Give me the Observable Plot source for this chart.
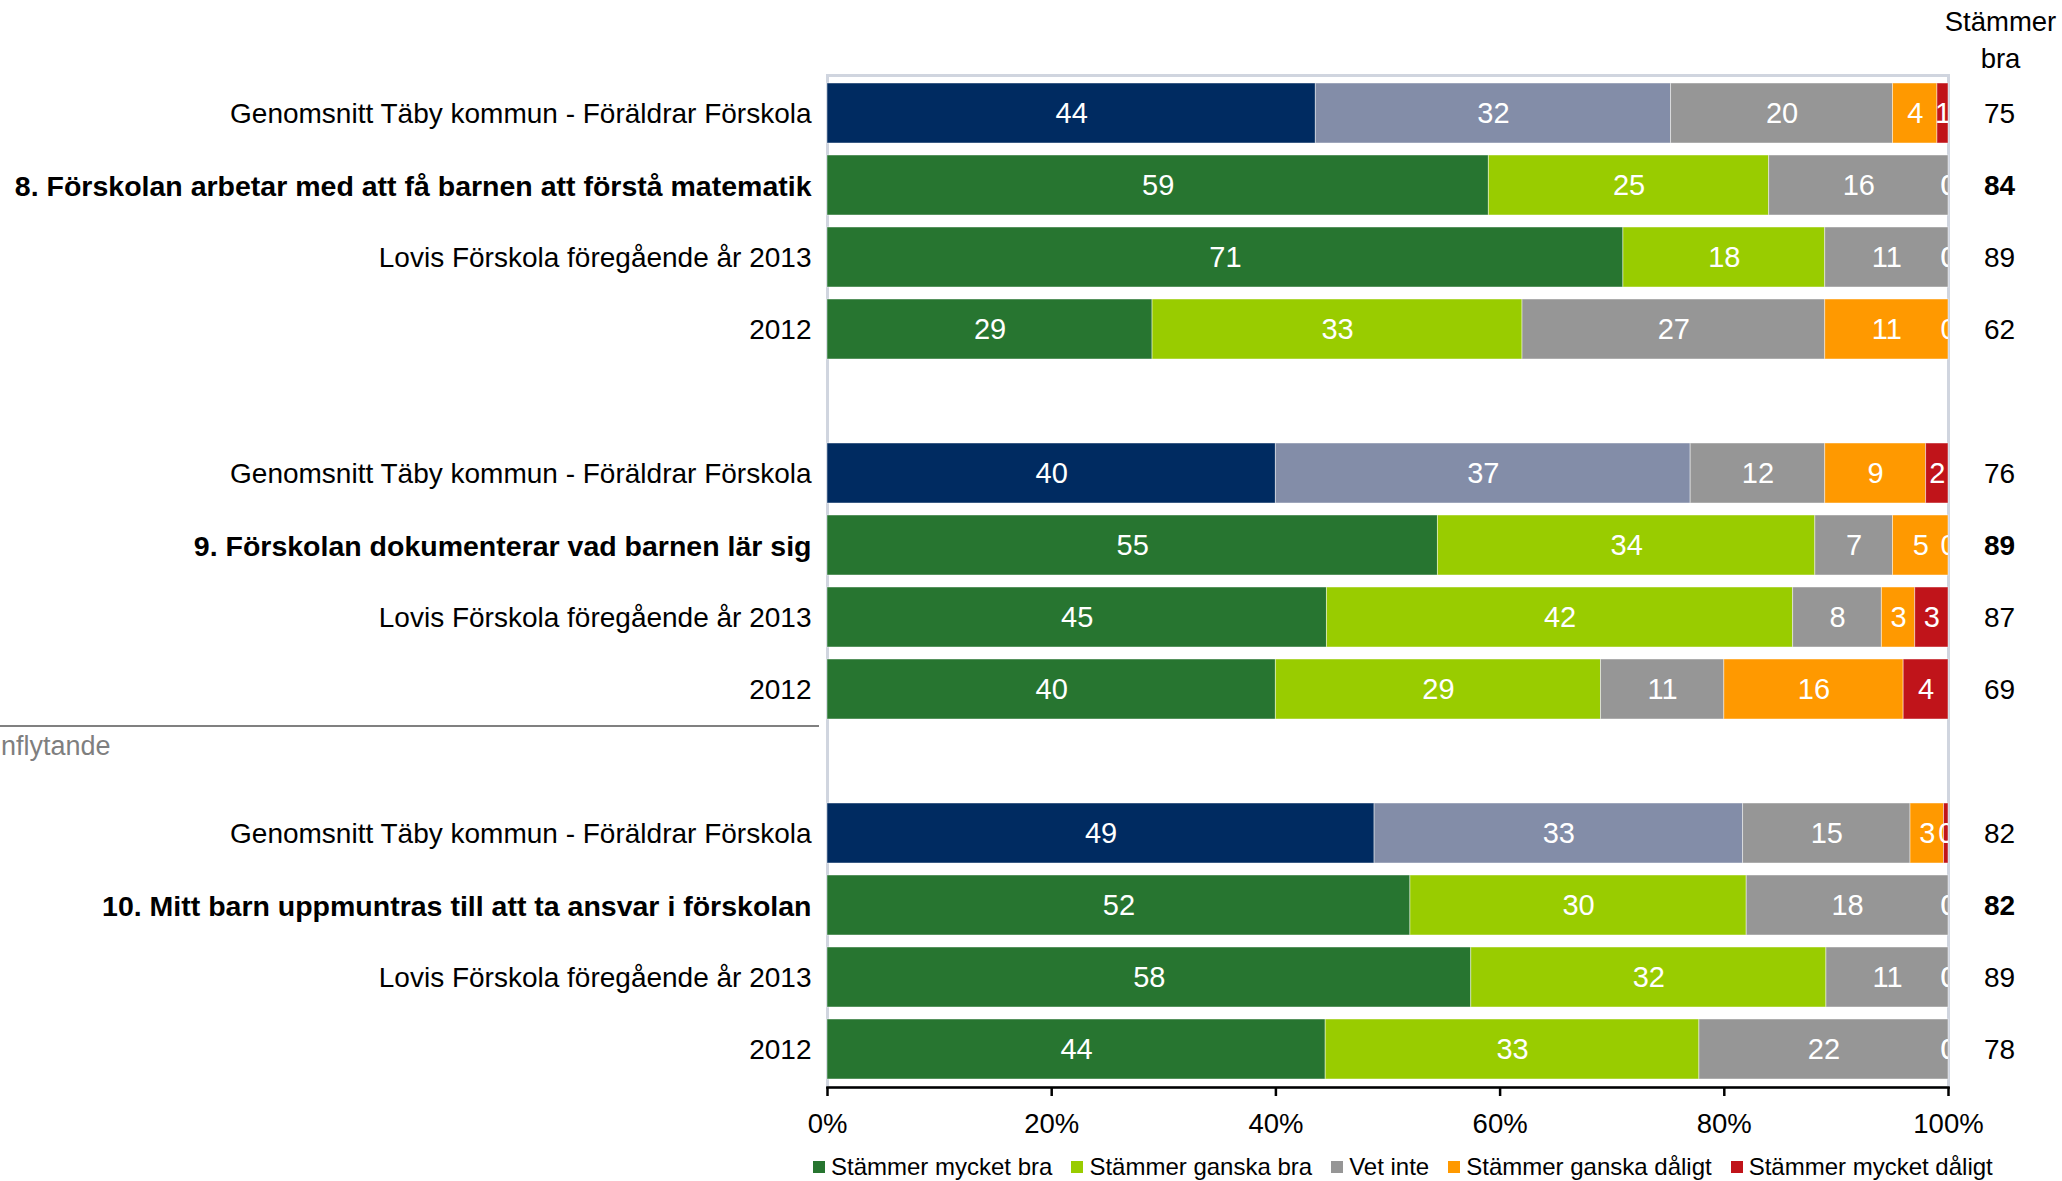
<!DOCTYPE html>
<html>
<head>
<meta charset="utf-8">
<script src="https://cdn.jsdelivr.net/npm/d3@7"></script>
<script src="https://cdn.jsdelivr.net/npm/@observablehq/plot@0.6"></script>
<style>
  body { margin: 0; background: #fff; font-family: "Liberation Sans", Arial, sans-serif; }
  #wrap { position: relative; width: 2062px; height: 1181px; overflow: hidden; }
  #chart { position: absolute; left: 0; top: 0; }
  #legend { position: absolute; left: 813px; top: 1145px; height: 43px; display: flex; align-items: center; font-size: 24px; color: #000; white-space: nowrap; }
  .item { display: flex; align-items: center; margin-right: 19px; }
  .sw { width: 12px; height: 12px; margin-right: 6px; }
  #sepline { position: absolute; left: 0; top: 725px; width: 819px; height: 2px; background: #808080; }
  #septext { position: absolute; left: 1px; top: 730px; font-size: 27px; color: #7f7f7f; line-height: 32px; }
</style>
</head>
<body>
<div id="wrap">
  <div id="chart"></div>
  <div id="sepline"></div>
  <div id="septext">nflytande</div>
  <div id="legend"></div>
</div>
<script>
// ---- Data ----
const categories = ["Stämmer mycket bra", "Stämmer ganska bra", "Vet inte", "Stämmer ganska dåligt", "Stämmer mycket dåligt"];
const schoolColors = ["#277530", "#99cc00", "#969696", "#ff9900", "#c0141a"];
const averageColors = ["#002b61", "#838da8", "#969696", "#ff9900", "#c0141a"];

const rowLabels = [
  "Genomsnitt Täby kommun - Föräldrar Förskola",
  "8. Förskolan arbetar med att få barnen att förstå matematik",
  "Lovis Förskola föregående år 2013",
  "2012",
  "Genomsnitt Täby kommun - Föräldrar Förskola",
  "9. Förskolan dokumenterar vad barnen lär sig",
  "Lovis Förskola föregående år 2013",
  "2012",
  "Genomsnitt Täby kommun - Föräldrar Förskola",
  "10. Mitt barn uppmuntras till att ta ansvar i förskolan",
  "Lovis Förskola föregående år 2013",
  "2012"
];
const rowTypes = ["avg", "question", "prev", "prev", "avg", "question", "prev", "prev", "avg", "question", "prev", "prev"];
const rowKeys = ["r0", "r1", "r2", "r3", "r4", "r5", "r6", "r7", "r8", "r9", "r10", "r11"];
const rowOrder = ["r0", "r1", "r2", "r3", "gap1", "r4", "r5", "r6", "r7", "gap2", "r8", "r9", "r10", "r11"];

// values per row, in category order
const values = [
  [44, 32, 20, 4, 1],
  [59, 25, 16, 0, 0],
  [71, 18, 11, 0, 0],
  [29, 33, 27, 11, 0],
  [40, 37, 12, 9, 2],
  [55, 34, 7, 5, 0],
  [45, 42, 8, 3, 3],
  [40, 29, 11, 16, 4],
  [49, 33, 15, 3, 0.4],
  [52, 30, 18, 0, 0],
  [58, 32, 11, 0, 0],
  [44, 33, 22, 0, 0]
];
const stammerBra = [75, 84, 89, 62, 76, 89, 87, 69, 82, 82, 89, 78];
const xTicks = [0, 0.2, 0.4, 0.6, 0.8, 1];

// ---- Tables built from the arrays ----
const rows = rowLabels.map((label, i) => ({key: rowKeys[i], label, type: rowTypes[i], bra: stammerBra[i]}));
const cells = rows.flatMap((r, i) => categories.map((c, j) => ({
  key: r.key,
  category: c,
  value: values[i][j],
  color: (r.type === "avg" ? averageColors : schoolColors)[j]
})));

const FONT = "'Liberation Sans', Arial, sans-serif";
const fmt = d3.format(".0f");

const chart = Plot.plot({
  width: 2062,
  height: 1145,
  marginLeft: 827,
  marginRight: 114,
  marginTop: 75,
  marginBottom: 58,
  style: {fontFamily: FONT, fontSize: "27px", color: "#000", background: "transparent", overflow: "visible"},
  x: {domain: [0, 1], label: null},
  y: {type: "band", domain: rowOrder, paddingInner: 0.168, paddingOuter: 0.107, axis: null},
  color: {type: "identity"},
  marks: [
    Plot.frame({stroke: "#d0d5df", strokeWidth: 3}),
    Plot.barX(cells, Plot.stackX({offset: "normalize", x: "value", y: "key", fill: "color", stroke: "#ffffff", strokeOpacity: 0.45, strokeWidth: 1})),
    Plot.text(cells, Plot.stackX({offset: "normalize", x: "value", y: "key", text: d => fmt(d.value), fill: "white", fontSize: 29, clip: true})),
    Plot.text(rows.filter(r => r.type !== "question"), {y: "key", text: "label", frameAnchor: "left", textAnchor: "end", dx: -16, dy: 1, fontSize: 28, fill: "#000"}),
    Plot.text(rows.filter(r => r.type === "question"), {y: "key", text: "label", frameAnchor: "left", textAnchor: "end", dx: -16, dy: 1, fontSize: 28.5, fontWeight: "bold", fill: "#000"}),
    Plot.text(rows.filter(r => r.type !== "question"), {y: "key", text: d => String(d.bra), frameAnchor: "right", textAnchor: "middle", dx: 51, dy: 1, fontSize: 28, fill: "#000"}),
    Plot.text(rows.filter(r => r.type === "question"), {y: "key", text: d => String(d.bra), frameAnchor: "right", textAnchor: "middle", dx: 51, dy: 1, fontSize: 28, fontWeight: "bold", fill: "#000"}),
    Plot.text(["Stämmer\nbra"], {text: d => d, frameAnchor: "top-right", textAnchor: "middle", lineAnchor: "bottom", lineHeight: 1.33, dx: 52, dy: -8, fontSize: 27.5, fill: "#000"}),
    Plot.axisX({ticks: xTicks, tickFormat: d => Math.round(d * 100) + "%", tickSize: 9, tickPadding: 17, stroke: "#000", strokeWidth: 2.5, fontSize: 27.5, fill: "#000", label: null}),
    Plot.frame({anchor: "bottom", stroke: "#000", strokeWidth: 2.5})
  ]
});
document.getElementById("chart").appendChild(chart);

// ---- Legend (school colours) ----
const legend = document.getElementById("legend");
categories.forEach((c, j) => {
  const item = document.createElement("div");
  item.className = "item";
  const sw = document.createElement("div");
  sw.className = "sw";
  sw.style.background = schoolColors[j];
  const t = document.createElement("span");
  t.textContent = c;
  item.appendChild(sw);
  item.appendChild(t);
  legend.appendChild(item);
});
</script>
</body>
</html>
